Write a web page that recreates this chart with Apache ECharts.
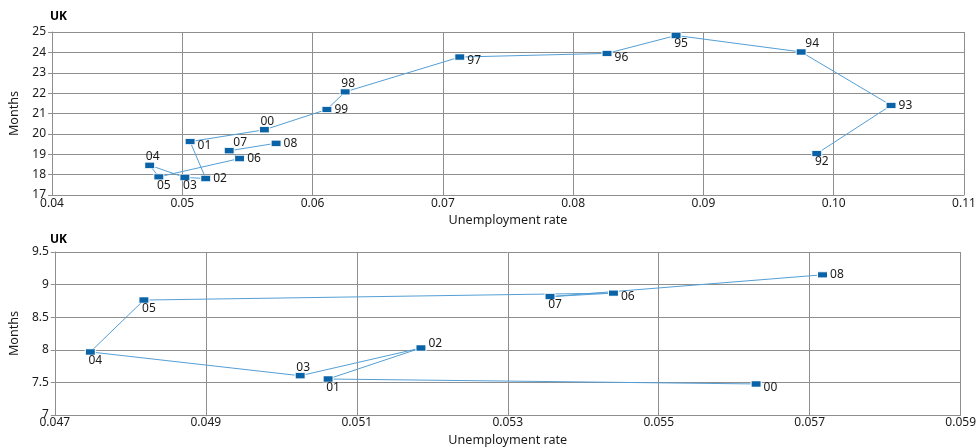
<!DOCTYPE html>
<html><head><meta charset="utf-8">
<script src="https://cdn.jsdelivr.net/npm/echarts@6/dist/echarts.min.js"></script>
<style>html,body{margin:0;padding:0;background:#fff}#c{width:979px;height:448px}</style>
</head><body><div id="c"></div>
<script>
// ---- data (top panel: 1992-2008) ----
const topYears  = ['92','93','94','95','96','97','98','99','00','01','02','03','04','05','06','07','08'];
const topRate   = [0.0987,0.1044,0.0975,0.0879,0.0826,0.0713,0.0625,0.0611,0.0563,0.0506,0.0518,0.0502,0.0475,0.0482,0.0544,0.0536,0.0572];
const topMonths = [19.03,21.40,24.02,24.83,23.95,23.77,22.06,21.20,20.20,19.62,17.81,17.86,18.46,17.89,18.79,19.17,19.54];
const topXTicks = [0.04,0.05,0.06,0.07,0.08,0.09,0.10,0.11];
const topYRange = [17,25];

// ---- data (bottom panel: 2000-2008) ----
const botYears  = ['00','01','02','03','04','05','06','07','08'];
const botRate   = [0.05629,0.05062,0.05185,0.05025,0.04747,0.04818,0.05440,0.05356,0.05717];
const botMonths = [7.476,7.552,8.028,7.602,7.967,8.763,8.870,8.815,9.150];
const botXTicks = [0.047,0.049,0.051,0.053,0.055,0.057,0.059];
const botYRange = [7,9.5];

// ---- label placement (styling) ----
const topLabelPos = ['b','r','tr','b','rb','rb','t','r','t','rb','r','b','t','b','r','tr','r'];
const botLabelPos = ['rb','b','ru','t','b','b','rb','b','r'];

const FONT = '"Noto Sans", "DejaVu Sans", sans-serif';
const TXT = '#1a1a1a';
const GRIDC = '#8e8e8e';
const placement = {
  r:  {position:'right', distance:2, offset:[0,0]},
  rb: {position:'right', distance:2, offset:[0,4]},
  ru: {position:'right', distance:2, offset:[0,-4]},
  t:  {position:'top', distance:0, offset:[3,1]},
  tr: {position:'top', distance:0, offset:[11,1]},
  b:  {position:'bottom', distance:0, offset:[5,-1]}
};
function buildData(xs, ys, names, pos){
  return xs.map((x,i)=>({
    value:[x, ys[i]], name:names[i],
    label: Object.assign({show:true, formatter:names[i]}, placement[pos[i]])
  }));
}
function xAxisCfg(gi, range, ticks, dec){
  return {
    type:'value', gridIndex:gi, min:range[0], max:range[1],
    name:'Unemployment rate', nameLocation:'middle', nameGap:19,
    nameTextStyle:{color:TXT, fontSize:12.6, fontFamily:FONT},
    axisLine:{show:true, lineStyle:{color:GRIDC, width:1}},
    axisTick:{show:false, customValues:ticks},
    axisLabel:{customValues:ticks, margin: gi===0?3:2, color:TXT, fontSize:12, fontFamily:FONT,
      formatter:v=>v.toFixed(dec)},
    splitLine:{show:true, lineStyle:{color:GRIDC, width:1}}
  };
}
function yAxisCfg(gi, range, step){
  return {
    type:'value', gridIndex:gi, min:range[0], max:range[1], interval:step,
    name:'Months', nameLocation:'middle', nameGap:31, nameRotate:90,
    nameTextStyle:{color:TXT, fontSize:12.6, fontFamily:FONT},
    axisLine:{show:true, lineStyle:{color:GRIDC, width:1}},
    axisTick:{show:true, length:4, lineStyle:{color:GRIDC}},
    axisLabel:{margin:6, color:TXT, fontSize:12, fontFamily:FONT, padding:[0,0,6,0]},
    splitLine:{show:true, lineStyle:{color:GRIDC, width:1}}
  };
}
const seriesStyle = {
  type:'line', symbol:'rect', symbolSize:[10,6], showSymbol:true,
  lineStyle:{color:'#549fd5', width:1},
  itemStyle:{color:'#0a63a6', borderColor:'#ffffff', borderWidth:0.8},
  label:{color:TXT, fontSize:12, fontFamily:FONT},
  emphasis:{disabled:true}, z:3
};

const chart = echarts.init(document.getElementById('c'), null, {renderer:'canvas'});
chart.setOption({
  animation:false,
  backgroundColor:'#ffffff',
  title:[
    {text:'UK', left:50, top:11, padding:0, textStyle:{fontSize:12, fontWeight:'bold', color:'#000', fontFamily:FONT}},
    {text:'UK', left:50, top:234, padding:0, textStyle:{fontSize:12, fontWeight:'bold', color:'#000', fontFamily:FONT}}
  ],
  grid:[
    {left:50, right:15, top:32, height:163, containLabel:false},
    {left:50, right:15, top:252, height:164.5, containLabel:false}
  ],
  xAxis:[ xAxisCfg(0, [0.04,0.11], topXTicks, 2), xAxisCfg(1, [0.047,0.059], botXTicks, 3) ],
  yAxis:[ yAxisCfg(0, topYRange, 1), yAxisCfg(1, botYRange, 0.5) ],
  series:[
    Object.assign({}, seriesStyle, {xAxisIndex:0, yAxisIndex:0, data:buildData(topRate, topMonths, topYears, topLabelPos)}),
    Object.assign({}, seriesStyle, {xAxisIndex:1, yAxisIndex:1, data:buildData(botRate, botMonths, botYears, botLabelPos)})
  ]
});
</script></body></html>
